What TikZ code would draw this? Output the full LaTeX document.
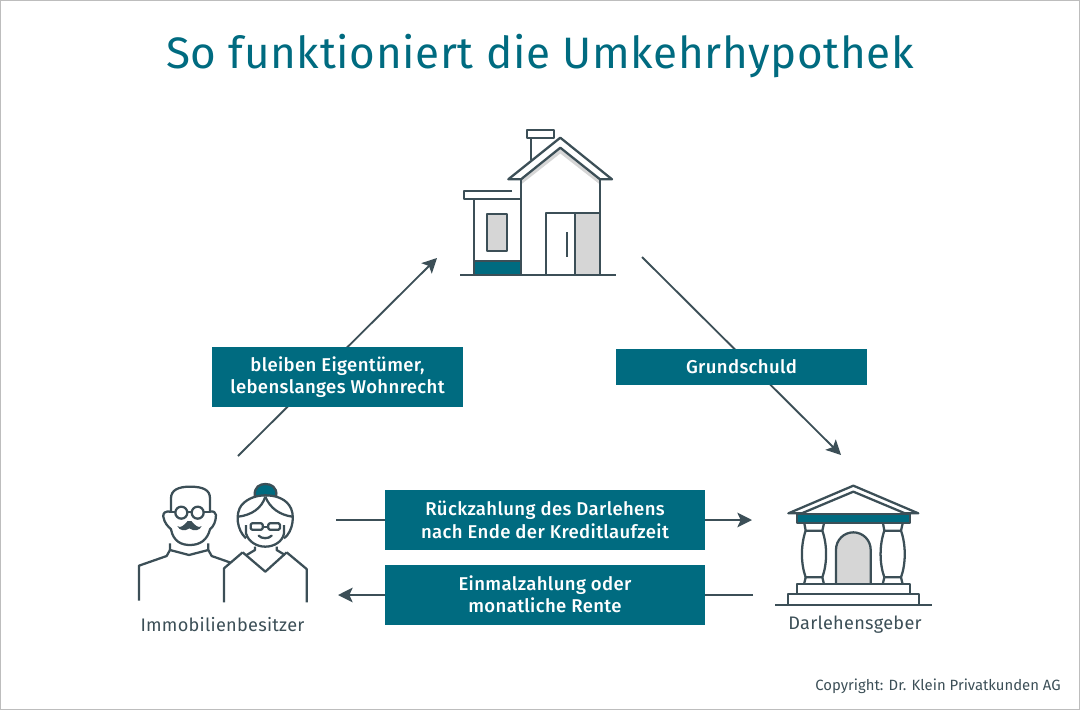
\documentclass[tikz,border=0pt]{standalone}
\usepackage{fontspec}
\setmainfont{Fira Sans}
\newfontfamily\boxfont{Fira Sans Medium}
\usetikzlibrary{arrows.meta}
\definecolor{teal1}{HTML}{006B80}
\definecolor{line1}{HTML}{3C4F57}
\definecolor{gray1}{HTML}{D6D6D6}
\definecolor{frame1}{HTML}{BDBDBD}
\tikzset{
 x=0.75pt,y=-0.75pt,
 ico/.style={draw=line1,line width=1.7pt,line join=round},
 flow/.style={draw=line1,line width=1.4pt,-{Stealth[length=11pt,width=11pt,inset=2.5pt]}},
 box/.style={fill=teal1,text=white,font=\fontsize{13.9}{16.8}\selectfont\boxfont\addfontfeature{LetterSpace=2},align=center,inner sep=0pt,minimum height=45pt},
 lbl/.style={text=line1,font=\fontsize{13.6}{16}\selectfont\addfontfeature{LetterSpace=1.5},inner sep=0pt},
}
\begin{document}
\begin{tikzpicture}
\useasboundingbox (0,0) rectangle (1080,710);
\draw[frame1,line width=0.75pt] (0.5,0.5) rectangle (1079.5,709.5);
\node[text=teal1,font=\fontsize{33}{36}\selectfont\addfontfeature{LetterSpace=1.5},inner sep=0pt] (title) at (540,56) {So funktioniert die Umkehrhypothek};

% coordinates
\coordinate (a1s) at (238,456); \coordinate (a1e) at (437,258);
\coordinate (a2s) at (642,257); \coordinate (a2e) at (841,455);
\coordinate (a3s) at (336,520); \coordinate (a3e) at (752,520);
\coordinate (a4s) at (753,595); \coordinate (a4e) at (338,595);
\draw[flow] (a1s)--(a1e);
\draw[flow] (a2s)--(a2e);
\draw[flow] (a3s)--(a3e);
\draw[flow] (a4s)--(a4e);

\node[box,minimum width=188pt] (b1) at (337.5,377) {bleiben Eigentümer,\\lebenslanges Wohnrecht};
\node[box,minimum width=188pt,minimum height=26.5pt] (b2) at (741.5,367) {Grundschuld};
\node[box,minimum width=240pt] (b3) at (545,520) {Rückzahlung des Darlehens\\nach Ende der Kreditlaufzeit};
\node[box,minimum width=240pt] (b4) at (545,594.5) {Einmalzahlung oder\\monatliche Rente};

% house
\fill[gray1] (575,213.3) rectangle (600,275);
\fill[teal1] (474,260.7) rectangle (520.7,275);
\fill[gray1] (521,179.3)--(560.3,147.7)--(600,179.3)--(600,184.5)--(560.3,153.5)--(521,184.5)--cycle;
\draw[ico,fill=gray1] (487.3,214.3) rectangle (507,250.7);
\draw[ico] (531.3,138)--(531.3,160);
\draw[ico] (526.7,130.3) rectangle (554,138.3);
\draw[ico,fill=white] (521,179.3)--(508.3,179.3)--(560.3,137.7)--(612,179.3)--(600,179.3)--(560.3,147.7)--cycle;
\draw[ico] (520.7,179.3)--(520.7,275.3) (600,179.3)--(600,275.3);
\draw[ico] (512,191)--(464,191)--(464,199)--(520.7,199);
\draw[ico] (474,199)--(474,275.3);
\draw[ico] (474,260.7)--(520.7,260.7);
\draw[ico] (546,275.3)--(546,213.3)--(600,213.3) (575,213.3)--(575,275.3);
\draw[ico] (566.7,232.3)--(566.7,256.7);
\draw[ico] (460,275.3)--(616,275.3);

% man
\begin{scope}[shift={(120,470)},x=0.25pt,y=-0.25pt]
\draw[ico] (153,125)--(153,85) .. controls (153,60) and (175,50) .. (210,50) .. controls (250,50) and (270,60) .. (270,85)--(270,125);
\draw[ico] (153,125) .. controls (135,122) and (128,130) .. (130,140) .. controls (133,160) and (145,170) .. (153,178) .. controls (160,215) and (185,225) .. (210,225) .. controls (240,225) and (262,210) .. (270,178) .. controls (280,170) and (288,155) .. (288,135) .. controls (288,128) and (280,122) .. (270,125);
\draw[ico] (184,128) circle[radius=18];
\draw[ico] (233,128) circle[radius=18];
\draw[ico] (166,126)--(153,126) (202,126)--(215,126) (251,126)--(270,126);
\fill[line1] (172,168) .. controls (182,178) and (195,162) .. (203,153) -- (214,153) .. controls (222,162) and (235,178) .. (245,168) .. controls (240,182) and (222,185) .. (208,175) .. controls (195,185) and (178,182) .. (172,168) -- cycle;
\draw[ico] (150,220)--(150,240)--(207,255)--(265,240)--(265,220);
\draw[ico] (57,392)--(57,287)--(140,258)--(150,240);
\draw[ico] (265,240)--(275,258)--(332,278);
% woman
\draw[ico,fill=teal1] (404,78) .. controls (402,50) and (420,42) .. (436,42) .. controls (452,42) and (472,50) .. (469,78);
\draw[ico] (378,205) .. controls (350,180) and (345,130) .. (365,105) .. controls (385,82) and (415,76) .. (436,76) .. controls (460,76) and (490,82) .. (507,105) .. controls (527,130) and (520,185) .. (492,205);
\draw[ico] (436,80) .. controls (425,115) and (395,135) .. (355,140);
\draw[ico] (436,80) .. controls (450,115) and (480,135) .. (517,140);
\draw[ico] (378,165)--(378,190) .. controls (385,215) and (410,230) .. (436,230) .. controls (462,230) and (488,215) .. (492,190)--(492,165);
\draw[ico,rounded corners=1pt] (392,160) rectangle (428,179);
\draw[ico,rounded corners=1pt] (445,160) rectangle (480,179);
\draw[ico] (428,172)--(445,172);
\draw[ico,line cap=round] (416,197) .. controls (425,207) and (446,207) .. (455,197);
\draw[ico] (405,230)--(405,240)--(380,255);
\draw[ico] (470,230)--(470,240)--(495,255);
\draw[ico] (368,247)--(436,305)--(500,247);
\draw[ico] (312,397)--(312,295)--(368,247);
\draw[ico] (500,247)--(560,297)--(560,397);
\end{scope}

% bank
\begin{scope}[shift={(760,470)},x=0.25pt,y=-0.25pt]
\fill[teal1] (110,133) rectangle (450,160);
\draw[ico] (110,133) rectangle (450,160);
\draw[ico] (125,130)--(85,130)--(280,47)--(475,130)--(435,130)--(280,65)--cycle;
\draw[ico,fill=gray1] (228,343)--(228,239) arc[start angle=180,end angle=360,radius=52] --(332,343);
\foreach \dx in {0,236}{
 \begin{scope}[shift={(\dx,0)}]
 \draw[ico] (133,160)--(137,182)--(187,182)--(192,160);
 \draw[ico] (137,182) .. controls (122,225) and (122,280) .. (137,322);
 \draw[ico] (187,182) .. controls (202,225) and (202,280) .. (187,322);
 \draw[ico] (137,322)--(187,322)--(192,343) (137,322)--(132,343);
 \end{scope}
}
\draw[ico] (110,372)--(110,343)--(450,343)--(450,372);
\draw[ico] (85,405)--(85,372)--(478,372)--(478,405);
\draw[ico] (45,406)--(517,406);
\end{scope}

\node[lbl] (l1) at (222.5,624.5) {Immobilienbesitzer};
\node[lbl] (l2) at (855,624.5) {Darlehensgeber};
\node[text=line1,font=\fontsize{11.15}{13}\selectfont,anchor=east,inner sep=0pt] (c) at (1061,686) {Copyright: Dr. Klein Privatkunden AG};
\end{tikzpicture}
\end{document}
